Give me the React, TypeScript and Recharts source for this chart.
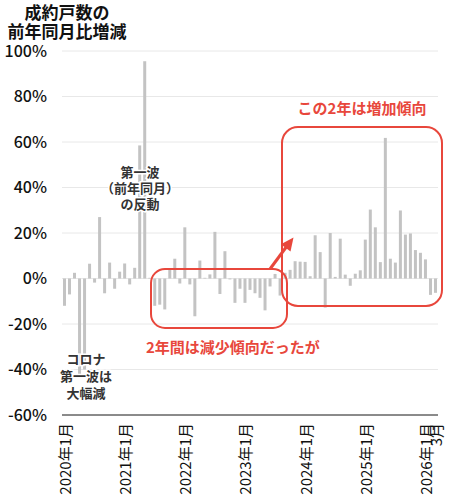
import React from 'react';
import { BarChart, Bar, XAxis, YAxis, CartesianGrid } from 'recharts';

const FONT = "'Noto Sans CJK JP', 'Noto Sans', sans-serif";
const RED = '#e8473c';

// 年と月（カテゴリ）
const years = [2020, 2021, 2022, 2023, 2024, 2025, 2026];

// 成約戸数の前年同月比（%）2020年1月〜2026年3月
const yoy2020 = [-12, -7, 2.5, -43, -40, 6.5, -1.8, 27, -6.5, 7, -4.5, 3];
const yoy2021 = [6.6, -2.6, 4.7, 58.5, 95.5, 0.3, -12, -11.5, -13.6, 4, 8.7, -2.2];
const yoy2022 = [22.5, -2.6, -16.6, 7.9, 0.3, 1.8, 20.5, -6.8, 12, -0.4, -10.7, -4.5];
const yoy2023 = [-10.7, -5, -6.5, -8.5, -14, -3.5, 2, -7.5, 2.5, 3.8, 7.6, 7.4];
const yoy2024 = [7.3, 1, 19, 11.6, -12.8, 20, 0.7, 17.5, 1.7, -3.2, 2.1, 3.6];
const yoy2025 = [17.1, 30.3, 22.5, 7.2, 61.8, 8.7, 7, 29.9, 19.3, 19.8, 12.5, 11.3];
const yoy2026 = [8.4, -7.2, -6.3];

const yoyByYear = [yoy2020, yoy2021, yoy2022, yoy2023, yoy2024, yoy2025, yoy2026];

const data: { month: string; value: number }[] = [];
years.forEach((y, yi) => {
  yoyByYear[yi].forEach((v, mi) => {
    data.push({ month: `${y}年${mi + 1}月`, value: v });
  });
});

// 目盛り
const xTicks = ['2020年1月', '2021年1月', '2022年1月', '2023年1月', '2024年1月', '2025年1月', '2026年1月', '2026年3月'];
const xTickText: Record<string, string> = { '2026年3月': '3月' };
const yTicks = [-60, -40, -20, 0, 20, 40, 60, 80, 100];

// 注記
const titleLines = ['成約戸数の', '前年同月比増減'];
const reboundLines = ['第一波', '（前年同月）', 'の反動'];
const dropLines = ['コロナ', '第一波は', '大幅減'];

const RotTick = (props: any) => {
  const { x, y, payload } = props;
  const label = xTickText[payload.value] ?? payload.value;
  return (
    <text
      x={x}
      y={y}
      transform={`rotate(-90, ${x}, ${y})`}
      textAnchor="end"
      dominantBaseline="central"
      fontSize={15}
      fill="#111"
      fontFamily={FONT}
    >
      {label}
    </text>
  );
};

const MultiLine = ({ x, y, lines, step, ...rest }: any) => (
  <text x={x} y={y} {...rest}>
    {lines.map((l: string, i: number) => (
      <tspan key={i} x={x} dy={i === 0 ? 0 : step}>
        {l}
      </tspan>
    ))}
  </text>
);

export default function App() {
  return (
    <div style={{ position: 'absolute', left: 0, top: 0, width: 450, height: 502, background: '#fff', fontFamily: FONT }}>
      <BarChart
        width={450}
        height={502}
        data={data}
        margin={{ top: 51, right: 12, bottom: 0, left: 0 }}
        barCategoryGap={0}
      >
        <CartesianGrid vertical={false} stroke="#e8e8e8" />
        <XAxis
          dataKey="month"
          ticks={xTicks}
          interval={0}
          height={87}
          tickLine={false}
          tickSize={0}
          tickMargin={8}
          axisLine={{ stroke: '#222', strokeWidth: 1 }}
          tick={<RotTick />}
        />
        <YAxis
          domain={[-60, 100]}
          ticks={yTicks}
          interval={0}
          width={62}
          tickLine={false}
          axisLine={false}
          tickSize={0}
          tickMargin={15}
          tick={{ fontSize: 16, fill: '#111', fontFamily: FONT, fontWeight: 500 }}
          tickFormatter={(v: number) => `${v}%`}
        />
        <Bar dataKey="value" fill="#c3c3c3" barSize={3} isAnimationActive={false} />
      </BarChart>
      <svg
        width={450}
        height={502}
        style={{ position: 'absolute', left: 0, top: 0, pointerEvents: 'none' }}
        fontFamily={FONT}
      >
        <MultiLine x={67} y={19} step={19} lines={titleLines} textAnchor="middle" fontSize={17} fontWeight={700} fill="#111" />

        <g fontSize={13} fontWeight={600} fill="#333" textAnchor="middle" stroke="#fff" strokeWidth={3} paintOrder="stroke">
          <MultiLine x={140} y={177} step={16} lines={reboundLines} />
          <MultiLine x={86} y={364} step={17} lines={dropLines} />
        </g>

        <rect x={151} y={269} width={136} height={59} rx={14} fill="none" stroke={RED} strokeWidth={2} />
        <rect x={282} y={127} width={160} height={179} rx={16} fill="none" stroke={RED} strokeWidth={2} />
        <line x1={270} y1={269} x2={287} y2={246} stroke={RED} strokeWidth={3} />
        <polygon points="293.5,237.5 290.5,251.5 280.9,244.3" fill={RED} />

        <text x={362} y={107} textAnchor="middle" dominantBaseline="central" fontSize={15} fontWeight={700} fill={RED}>この2年は増加傾向</text>
        <text x={146} y={346} textAnchor="start" dominantBaseline="central" fontSize={15} fontWeight={700} fill={RED}>2年間は減少傾向だったが</text>
      </svg>
    </div>
  );
}
